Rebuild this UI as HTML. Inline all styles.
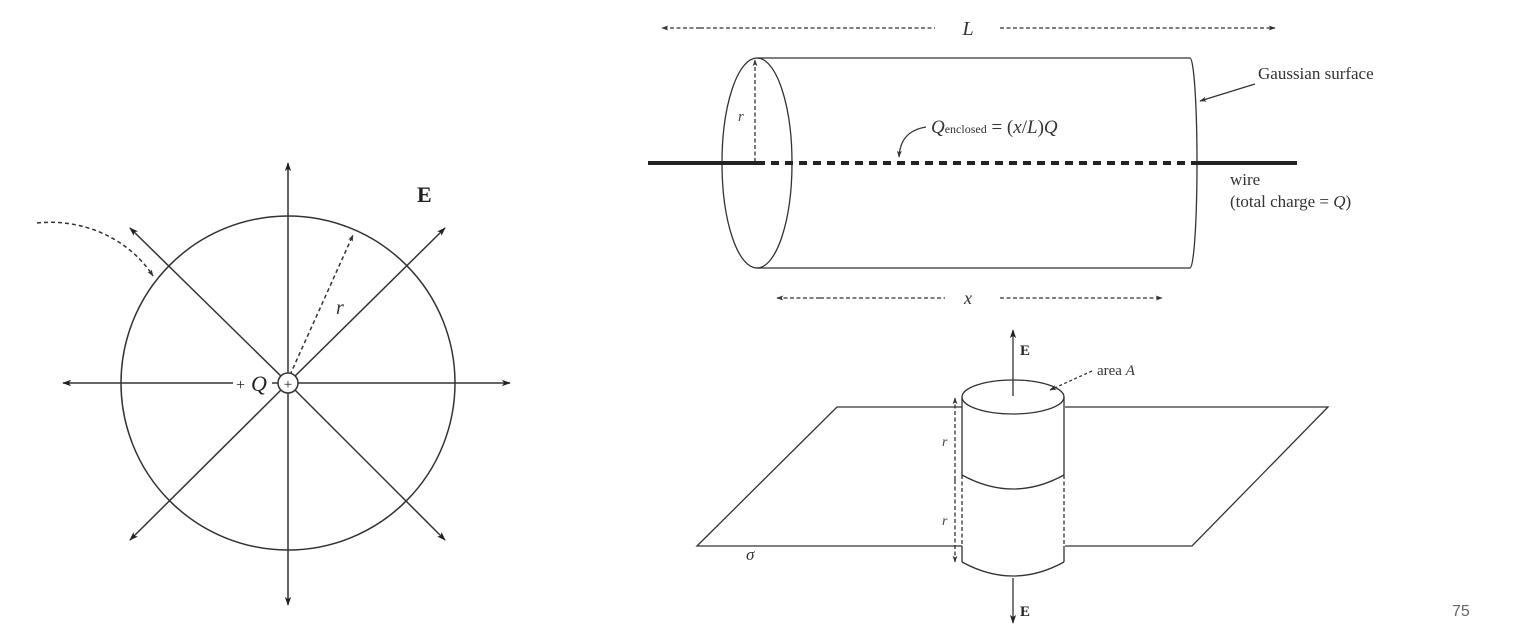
<!DOCTYPE html>
<html><head><meta charset="utf-8"><style>
html,body{margin:0;padding:0;background:#fff;}
svg{display:block;font-family:"Liberation Serif",serif;}
</style></head><body>
<svg width="1529" height="637" viewBox="0 0 1529 637" xmlns="http://www.w3.org/2000/svg">
<defs>
<marker id="a" viewBox="0 0 10 10" refX="9" refY="5" markerWidth="9" markerHeight="9" orient="auto-start-reverse" markerUnits="userSpaceOnUse"><path d="M0,1.5 L10,5 L0,8.5 L2.5,5 z" fill="#222"/></marker>
<marker id="s" viewBox="0 0 10 10" refX="9" refY="5" markerWidth="7" markerHeight="7" orient="auto-start-reverse" markerUnits="userSpaceOnUse"><path d="M0,1.5 L10,5 L0,8.5 L2.5,5 z" fill="#333"/></marker>
</defs>
<g stroke="#333" stroke-width="1.5" fill="none">
<circle cx="288" cy="383" r="167"/>
<line x1="288" y1="383" x2="288" y2="163" marker-end="url(#a)"/>
<line x1="288" y1="383" x2="288" y2="605" marker-end="url(#a)"/>
<line x1="298" y1="383" x2="510" y2="383" marker-end="url(#a)"/>
<line x1="233" y1="383" x2="63" y2="383" marker-end="url(#a)"/>
<line x1="272" y1="383" x2="278" y2="383"/>
<line x1="288" y1="383" x2="445" y2="228" marker-end="url(#a)"/>
<line x1="288" y1="383" x2="130" y2="228" marker-end="url(#a)"/>
<line x1="288" y1="383" x2="130" y2="540" marker-end="url(#a)"/>
<line x1="288" y1="383" x2="445" y2="540" marker-end="url(#a)"/>
<line x1="290" y1="375" x2="353" y2="235" stroke-dasharray="4,3" marker-end="url(#s)"/>
<path d="M37,223 C85,218 130,240 153,276" stroke-dasharray="4,3" marker-end="url(#s)"/>
</g>
<circle cx="288" cy="383" r="10" fill="#fff" stroke="#333" stroke-width="1.5"/>
<text x="288" y="389" font-size="15" text-anchor="middle" fill="#222">+</text>
<text x="236" y="390" font-size="16" fill="#222">+</text>
<text x="251" y="391" font-size="22" font-style="italic" fill="#222">Q</text>
<text x="417" y="202" font-size="22" font-weight="bold" fill="#222">E</text>
<text x="336" y="314" font-size="20" font-style="italic" fill="#333">r</text>

<g stroke="#333" stroke-width="1.3" fill="none">
<line x1="700" y1="28" x2="662" y2="28" stroke-dasharray="4,2.5" marker-end="url(#s)"/>
<line x1="700" y1="28" x2="935" y2="28" stroke-dasharray="4,2.5"/>
<line x1="1000" y1="28" x2="1275" y2="28" stroke-dasharray="4,2.5" marker-end="url(#s)"/>
<line x1="820" y1="298" x2="777" y2="298" stroke-dasharray="4,2.5" marker-end="url(#s)"/>
<line x1="820" y1="298" x2="945" y2="298" stroke-dasharray="4,2.5"/>
<line x1="1000" y1="298" x2="1162" y2="298" stroke-dasharray="4,2.5" marker-end="url(#s)"/>
<ellipse cx="757" cy="163" rx="35" ry="105"/>
<line x1="757" y1="58" x2="1190" y2="58"/>
<line x1="757" y1="268" x2="1190" y2="268"/>
<path d="M1190,58 A7,105 0 0 1 1190,268"/>
<line x1="755" y1="162" x2="755" y2="60" stroke-dasharray="4,2.5" marker-end="url(#s)"/>
<line x1="1255" y1="84" x2="1200" y2="101" marker-end="url(#s)"/>
<path d="M926,127 C908,130 900,140 899,157" marker-end="url(#s)"/>
</g>
<line x1="648" y1="163" x2="757" y2="163" stroke="#222" stroke-width="4"/>
<line x1="1197" y1="163" x2="1297" y2="163" stroke="#222" stroke-width="4"/>
<line x1="757" y1="163" x2="1197" y2="163" stroke="#222" stroke-width="4" stroke-dasharray="8,6"/>
<text x="968" y="35" font-size="20" font-style="italic" fill="#333" text-anchor="middle">L</text>
<text x="968" y="304" font-size="18" font-style="italic" fill="#333" text-anchor="middle">x</text>
<text x="738" y="121" font-size="15" font-style="italic" fill="#444">r</text>
<text x="1258" y="79" font-size="17" fill="#333">Gaussian surface</text>
<text x="1230" y="185" font-size="17" fill="#333">wire</text>
<text x="1230" y="207" font-size="17" fill="#333">(total charge = <tspan font-style="italic">Q</tspan>)</text>
<text x="931" y="133" font-size="19" fill="#333"><tspan font-style="italic">Q</tspan><tspan font-size="12">enclosed</tspan> = (<tspan font-style="italic">x</tspan>/<tspan font-style="italic">L</tspan>)<tspan font-style="italic">Q</tspan></text>

<g stroke="#333" stroke-width="1.3" fill="none">
<polyline points="962,407 837,407 697,546 962,546"/>
<polyline points="1065,407 1328,407 1192,546 1065,546"/>
<ellipse cx="1013" cy="397" rx="51" ry="17"/>
<line x1="962" y1="397" x2="962" y2="475"/>
<line x1="1064" y1="397" x2="1064" y2="475"/>
<path d="M962,475 Q1013,503 1064,475"/>
<line x1="962" y1="475" x2="962" y2="546" stroke-dasharray="4,2.5"/>
<line x1="1064" y1="475" x2="1064" y2="546" stroke-dasharray="4,2.5"/>
<line x1="962" y1="546" x2="962" y2="562"/>
<line x1="1064" y1="546" x2="1064" y2="562"/>
<path d="M962,562 Q1013,590 1064,562"/>
<line x1="1013" y1="396" x2="1013" y2="330" marker-end="url(#a)"/>
<line x1="1013" y1="578" x2="1013" y2="623" marker-end="url(#a)"/>
<line x1="955" y1="480" x2="955" y2="398" stroke-dasharray="4,2.5" marker-end="url(#s)"/>
<line x1="955" y1="480" x2="955" y2="562" stroke-dasharray="4,2.5" marker-end="url(#s)"/>
<line x1="1092" y1="371" x2="1050" y2="390" stroke-dasharray="3,2.5" marker-end="url(#s)"/>
</g>
<text x="1020" y="355" font-size="15" font-weight="bold" fill="#222">E</text>
<text x="1020" y="616" font-size="15" font-weight="bold" fill="#222">E</text>
<text x="1097" y="375" font-size="15" fill="#333">area <tspan font-style="italic">A</tspan></text>
<text x="942" y="446" font-size="14" font-style="italic" fill="#444">r</text>
<text x="942" y="525" font-size="14" font-style="italic" fill="#444">r</text>
<text x="746" y="560" font-size="17" font-style="italic" fill="#333">σ</text>
<text x="1452" y="616" font-size="16" fill="#666" font-family="Liberation Sans, sans-serif">75</text>
</svg>
</body></html>
